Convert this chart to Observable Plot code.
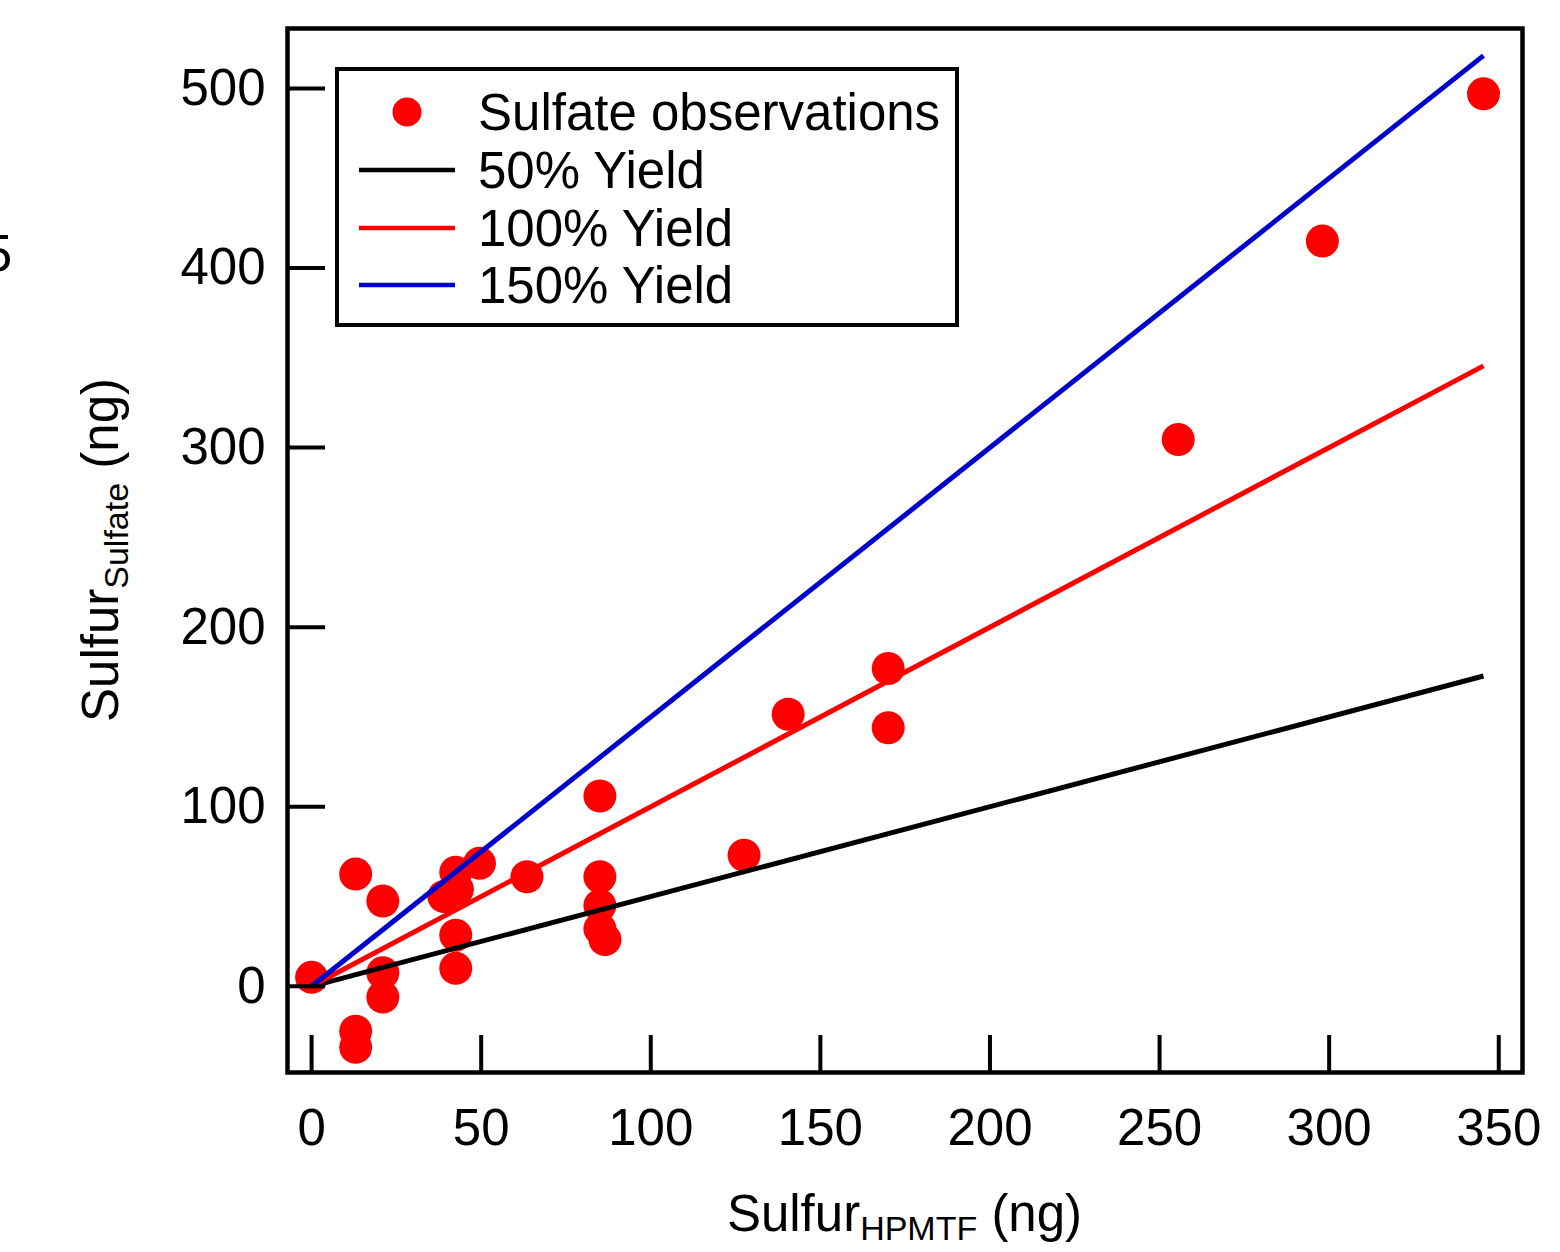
<!DOCTYPE html>
<html>
<head>
<meta charset="utf-8">
<script src="https://cdn.jsdelivr.net/npm/d3@7"></script>
<script src="https://cdn.jsdelivr.net/npm/@observablehq/plot@0.6"></script>
<style>
  html, body { margin: 0; padding: 0; background: #fff; }
  #chart { width: 1560px; height: 1252px; }
  svg { display: block; }
</style>
</head>
<body>
<div id="chart"></div>
<script>
// ---- data ----
const obsX = [0, 13, 13, 13, 21, 21, 21, 39, 42.5, 43, 42.5, 42.5, 49.5, 63.5, 85, 85, 85, 85, 86.5, 127.5, 140.5, 170, 170, 255.5, 298, 345.5];
const obsY = [5, 62.5, -25, -34, 47.5, 7.5, -6, 50, 63.5, 54, 28.5, 10, 68.5, 61, 106, 61, 45, 32, 26, 73, 151.5, 177, 144, 304.5, 415, 497];

const lineX    = [0, 345.5];
const yield50  = [0, 172.8];
const yield100 = [0, 345.5];
const yield150 = [0, 518.3];

const xTicks = [0, 50, 100, 150, 200, 250, 300, 350];
const yTicks = [0, 100, 200, 300, 400, 500];

const legendLabels = ["Sulfate observations", "50% Yield", "100% Yield", "150% Yield"];
const legendColors = ["#ff0000", "#000000", "#ff0000", "#0000cc"];

// ---- tables ----
const obs = obsX.map((x, i) => ({x, y: obsY[i]}));
const l50 = lineX.map((x, i) => ({x, y: yield50[i]}));
const l100 = lineX.map((x, i) => ({x, y: yield100[i]}));
const l150 = lineX.map((x, i) => ({x, y: yield150[i]}));

const W = 1560, H = 1252;
const mL = 287, mR = 38, mT = 28, mB = 180;
const frameW = W - mL - mR, frameH = H - mT - mB;
const FONT = "'Liberation Sans', Arial, Helvetica, sans-serif";

const svg = Plot.plot({
  width: W, height: H,
  marginLeft: mL, marginRight: mR, marginTop: mT, marginBottom: mB,
  style: {fontFamily: FONT, fontSize: "51px", color: "#000", background: "#fff", overflow: "visible"},
  x: {domain: [-7.1, 357], label: null},
  y: {domain: [-48, 533.4], label: null},
  marks: [
    Plot.dot(obs, {x: "x", y: "y", r: 16.5, fill: "#ff0000", stroke: "none"}),
    Plot.line(l50, {x: "x", y: "y", stroke: "#000000", strokeWidth: 5, strokeLinecap: "butt"}),
    Plot.line(l100, {x: "x", y: "y", stroke: "#ff0000", strokeWidth: 5, strokeLinecap: "butt"}),
    Plot.line(l150, {x: "x", y: "y", stroke: "#0000cc", strokeWidth: 5, strokeLinecap: "butt"}),
    Plot.tickX(xTicks, {x: d => d, stroke: "#000", strokeWidth: 4, insetTop: frameH - 37}),
    Plot.tickY(yTicks, {y: d => d, stroke: "#000", strokeWidth: 4, insetRight: frameW - 38}),
    Plot.axisX({ticks: xTicks, tickSize: 0, tickPadding: 36, fontSize: 51, label: null}),
    Plot.axisY({ticks: yTicks, tickSize: 0, tickPadding: 22, fontSize: 51, label: null}),
    Plot.frame({stroke: "#000", strokeWidth: 4.5})
  ]
});

document.getElementById("chart").appendChild(svg);

const s = d3.select(svg);
const g = s.append("g").attr("font-family", FONT).attr("fill", "#000");

// x axis label with subscript
const xl = g.append("text")
  .attr("x", mL + frameW / 2).attr("y", 1231)
  .attr("text-anchor", "middle").attr("font-size", 51);
xl.append("tspan").text("Sulfur");
xl.append("tspan").attr("font-size", 34).attr("dy", 9).text("HPMTF");
xl.append("tspan").attr("dy", -9).text(" (ng)");

// y axis label with subscript
const yl = g.append("text")
  .attr("transform", `translate(118,${mT + frameH / 2}) rotate(-90)`)
  .attr("text-anchor", "middle").attr("font-size", 51);
yl.append("tspan").text("Sulfur");
yl.append("tspan").attr("font-size", 34).attr("dy", 10).text("Sulfate");
yl.append("tspan").attr("dy", -10).text(" (ng)");

// clipped fragment at left edge (as in the reference)
g.append("text").attr("x", 12).attr("y", 271).attr("text-anchor", "end")
  .attr("font-size", 51).text("5");

// legend
const lg = s.append("g").attr("font-family", FONT).attr("text-anchor", "start");
lg.append("rect").attr("x", 337).attr("y", 69).attr("width", 620).attr("height", 256)
  .attr("fill", "#fff").attr("stroke", "#000").attr("stroke-width", 4);
const rowY = [112, 170, 228, 285];
legendLabels.forEach((lab, i) => {
  if (i === 0) {
    lg.append("circle").attr("cx", 407).attr("cy", rowY[i]).attr("r", 14.5).attr("fill", legendColors[i]);
  } else {
    lg.append("line").attr("x1", 359).attr("x2", 455).attr("y1", rowY[i]).attr("y2", rowY[i])
      .attr("stroke", legendColors[i]).attr("stroke-width", 4.5);
  }
  lg.append("text").attr("x", 478).attr("y", rowY[i] + 18).attr("font-size", 51)
    .attr("text-anchor", "start").attr("fill", "#000").text(lab);
});
</script>
</body>
</html>
